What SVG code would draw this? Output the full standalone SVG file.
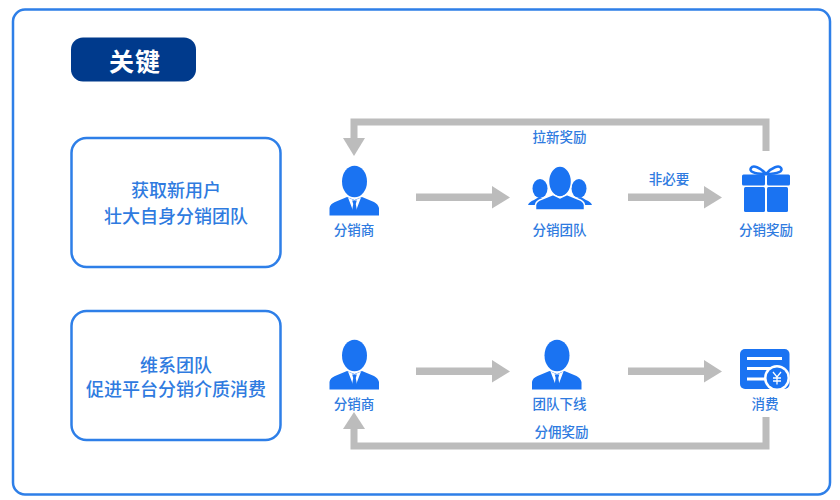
<svg xmlns="http://www.w3.org/2000/svg" width="840" height="500" viewBox="0 0 840 500">
<style>
text{font-family:"Noto Sans CJK SC","Liberation Sans",sans-serif;text-anchor:middle}
.box{fill:#fff;stroke:#2e7fe8;stroke-width:2.5}
.big{fill:#2f7be0;font-size:18px;font-weight:500}
.lb{fill:#2f7be0;font-size:13.500px;font-weight:500}
.ic{fill:#1a73f2}
.line{fill:none;stroke:#bcbcbc;stroke-width:7}
.head{fill:#bcbcbc}
</style>
<defs>
<g id="person">
<ellipse class="ic" cx="354.500" cy="181.500" rx="12.500" ry="15.800"/>
<path class="ic" d="M329.500 215.500V208Q330 204 335 202L347 197L354.500 200L362 197L374 202Q378 204 379 208V215.500Z"/>
<path fill="#fff" d="M348 197.500L354.500 200.500L361 197.500L355.500 212H353.500Z"/>
<path class="ic" d="M352.200 200.500H356.800L355.800 204L357 211L354.500 214L352 211L353.200 204Z"/>
</g>
<path id="harrow" class="head" d="M416 193.500H492V186L510 197.500L492 208.500V201H416Z"/>
</defs>
<rect width="840" height="500" fill="#fff"/>
<rect x="13" y="9.500" width="817" height="485" rx="12" fill="#fff" stroke="#2e7fe8" stroke-width="2.500"/>
<g id="title"><rect x="71" y="37.500" width="125" height="44" rx="12" fill="#003a8c"/><text x="135" y="71" font-size="25" font-weight="700" fill="#fff" letter-spacing="1">关键</text></g>
<g id="box1"><rect class="box" x="71.500" y="138" width="209" height="129" rx="15"/><text class="big" x="176" y="197">获取新用户</text><text class="big" x="176" y="223">壮大自身分销团队</text></g>
<g id="box2"><rect class="box" x="71.500" y="311" width="209" height="129" rx="15"/><text class="big" x="176" y="372">维系团队</text><text class="big" x="176" y="396">促进平台分销介质消费</text></g>
<g id="connectors">
<path class="line" d="M766 151V122H354V140"/><path class="head" d="M343 138H365L354 156Z"/>
<use href="#harrow"/>
<use href="#harrow" x="212"/>
<use href="#harrow" y="174"/>
<use href="#harrow" x="212" y="174"/>
<path class="line" d="M766 417V446H354V427"/><path class="head" d="M343 429H365L354 412Z"/>
<text class="lb" x="559.500" y="142">拉新奖励</text>
<text class="lb" x="669" y="184">非必要</text>
<text class="lb" x="561.500" y="437">分佣奖励</text>
</g>
<g id="n-distributor1"><use href="#person"/><text class="lb" x="354" y="235">分销商</text></g>
<g id="n-team"><g class="ic">
<ellipse cx="540" cy="188.500" rx="7.500" ry="9.500"/><path d="M528 205Q529 202 534 200L539 197L544 199L541 205Z"/>
<ellipse cx="579" cy="188.500" rx="7.500" ry="9.500"/><path d="M592 205Q591 202 586 200L581 197L576 199L578 205Z"/>
<ellipse cx="560" cy="181.500" rx="11.500" ry="15.500" stroke="#fff" stroke-width="1.500"/>
<path stroke="#fff" stroke-width="1.500" d="M535.500 210V205Q536 201 542 199L553 194.500L560 198L567 194.500L578 199Q584 201 584.500 205V210Z"/>
</g><text class="lb" x="559.500" y="235">分销团队</text></g>
<g id="n-reward"><g class="ic">
<rect x="742" y="174.500" width="23" height="11" rx="1.500"/><rect x="767" y="174.500" width="23" height="11" rx="1.500"/>
<rect x="744" y="187" width="21" height="25" rx="1.500"/><rect x="767" y="187" width="21" height="25" rx="1.500"/>
<path fill="none" stroke="#1a73f2" stroke-width="2.500" d="M766 174C760 167 753 165 751 168C749 171 753 174 766 174C779 174 783 171 781 168C779 165 772 167 766 174Z"/>
</g><text class="lb" x="766" y="235">分销奖励</text></g>
<g id="n-distributor2"><use href="#person" y="174"/><text class="lb" x="354" y="409">分销商</text></g>
<g id="n-downline"><use href="#person" x="202.500" y="174"/><text class="lb" x="559.500" y="409">团队下线</text></g>
<g id="n-consume">
<rect class="ic" x="740" y="349" width="49.500" height="40" rx="5"/>
<path fill="none" stroke="#fff" stroke-width="3" d="M747 358.500H782M747 368.500H771M747 379H767"/>
<circle cx="777" cy="378" r="13" fill="#fff"/><circle class="ic" cx="777" cy="378" r="10.500"/>
<path fill="none" stroke="#fff" stroke-width="1.300" d="M773 372L777 377L781 372M777 377V384.500M773 378H781M773 381H781"/>
<text class="lb" x="765" y="409">消费</text></g>
</svg>
